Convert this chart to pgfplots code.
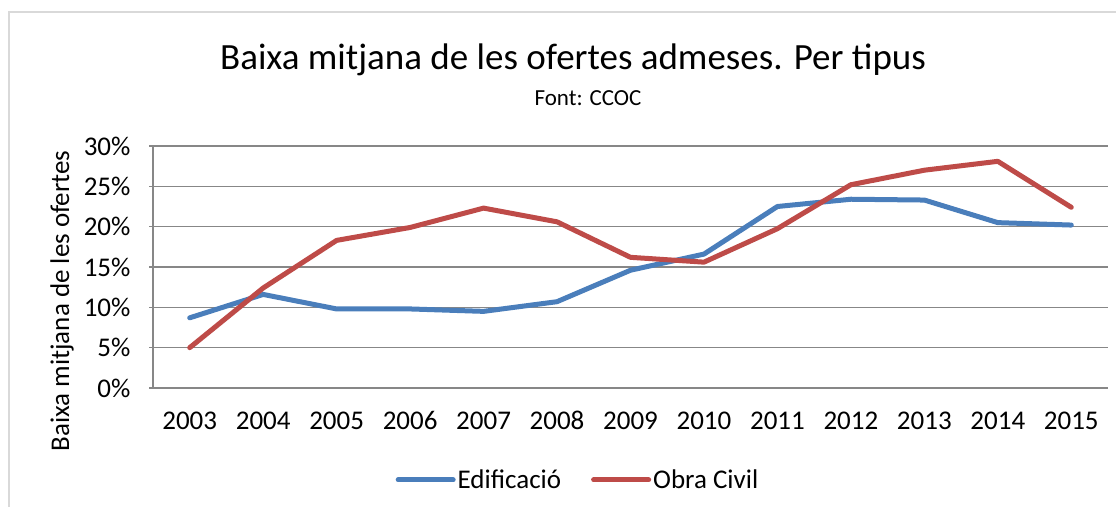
\documentclass[border=0pt]{standalone}
\usepackage{pgfplots}
\pgfplotsset{compat=1.18}
\usepackage{fontspec}
\setmainfont{Carlito}
\definecolor{eblue}{HTML}{4A7EBB}
\definecolor{ered}{HTML}{BE4B48}
\definecolor{gridg}{HTML}{878787}
\begin{document}
\begin{tikzpicture}
\useasboundingbox (0pt,0pt) rectangle (1116pt,506pt);
\draw[color=black!15, line width=1.5pt] (9pt,-20pt) -- (9pt,494pt) -- (1140pt,494pt);
\node[font=\fontsize{37}{42}\selectfont] at (573pt,446pt) {Baixa mitjana de les ofertes admeses. Per tipus};
\node[font=\fontsize{23}{27}\selectfont] at (588pt,408pt) {Font: CCOC};
\begin{axis}[
  at={(153pt,118pt)}, anchor=south west,
  scale only axis, width=955pt, height=242pt,
  xmin=-0.5, xmax=12.5, ymin=0, ymax=30,
  xtick={0,...,12},
  xticklabels={2003,2004,2005,2006,2007,2008,2009,2010,2011,2012,2013,2014,2015},
  ytick={0,5,...,30},
  yticklabels={0\%,5\%,10\%,15\%,20\%,25\%,30\%},
  axis x line*=bottom, axis y line*=left,
  axis line style={draw=gridg, line width=1.3pt},
  x axis line style={draw=none},
  ymajorgrids, grid style={draw=gridg, line width=1.3pt},
  major x tick style={draw=none},
  major y tick style={draw=gridg, line width=1.3pt},
  tick align=outside, major tick length=4pt,
  ticklabel style={font=\fontsize{27}{31}\selectfont},
  yticklabel style={xshift=-15pt},
  xticklabel style={yshift=-16pt, text height=18pt, text depth=0pt},
  ylabel={Baixa mitjana de les ofertes},
  ylabel style={font=\fontsize{27}{31}\selectfont, at={(axis description cs:-0.0953,0.36)}, anchor=center, rotate=0},
  legend columns=2,
  legend style={draw=none, at={(0.445,-0.38)}, anchor=center, font=\fontsize{27}{31}\selectfont,
    /tikz/every even column/.append style={column sep=28pt}},
  legend image code/.code={\draw[#1, line cap=round] (0pt,0pt) -- (55pt,0pt);},
  clip=false,
]
\addplot[eblue, line width=5pt, line join=round, line cap=round] coordinates {
(0,8.7) (1,11.6) (2,9.8) (3,9.8) (4,9.5) (5,10.7) (6,14.6) (7,16.6) (8,22.5) (9,23.4) (10,23.3) (11,20.5) (12,20.2)};
\addlegendentry{Edificació}
\addplot[ered, line width=5pt, line join=round, line cap=round] coordinates {
(0,5.0) (1,12.4) (2,18.3) (3,19.9) (4,22.3) (5,20.6) (6,16.2) (7,15.6) (8,19.75) (9,25.2) (10,27.0) (11,28.1) (12,22.4)};
\addlegendentry{Obra Civil}
\end{axis}
\end{tikzpicture}
\end{document}
